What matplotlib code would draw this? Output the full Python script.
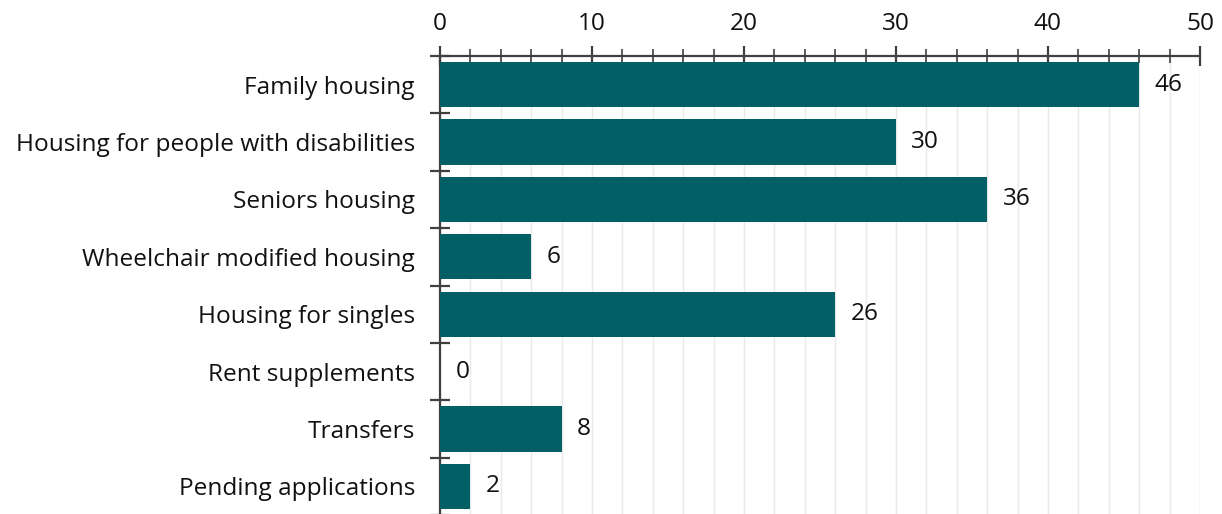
import matplotlib
matplotlib.use("Agg")
import matplotlib.pyplot as plt
from matplotlib.ticker import MultipleLocator

categories = [
    "Family housing",
    "Housing for people with disabilities",
    "Seniors housing",
    "Wheelchair modified housing",
    "Housing for singles",
    "Rent supplements",
    "Transfers",
    "Pending applications",
]
counts = [46, 30, 36, 6, 26, 0, 8, 2]

BAR = "#025f66"
AXIS = "#404040"
GRID = "#e9e9e9"
TEXT = "#111111"
FS = 17.6

plt.rcParams["font.family"] = ["Open Sans", "DejaVu Sans"]

fig = plt.figure(figsize=(12.22, 5.14), dpi=100)
ax = fig.add_axes([440 / 1222, -0.002, 760 / 1222, 1 - 56 / 514 + 0.002])

y = list(range(len(categories)))
ax.barh(y, counts, height=0.79, color=BAR, zorder=3)
for yi, v in zip(y, counts):
    ax.annotate(str(v), (v, yi), xytext=(11, 0), textcoords="offset points",
                ha="left", va="center", fontsize=FS, color=TEXT)

ax.set_ylim(len(categories) - 0.5, -0.5)
ax.set_xlim(0, 50)

ax.xaxis.tick_top()
ax.xaxis.set_major_locator(MultipleLocator(10))
ax.xaxis.set_minor_locator(MultipleLocator(2))
ax.tick_params(axis="x", which="major", direction="inout", length=14, width=1.6,
               color=AXIS, labelsize=FS, labelcolor=TEXT, pad=7.5)
ax.tick_params(axis="x", which="minor", direction="inout", length=10, width=1.2, color=AXIS)
ax.grid(axis="x", which="both", color=GRID, lw=1.0, zorder=0)

ax.set_yticks(y)
ax.set_yticklabels(categories)
ax.set_yticks([i - 0.5 for i in range(len(categories) + 1)], minor=True)
ax.tick_params(axis="y", which="major", length=0, labelsize=FS, labelcolor=TEXT, pad=18)
ax.tick_params(axis="y", which="minor", direction="inout", length=14, width=1.6, color=AXIS)

for s in ("right", "bottom"):
    ax.spines[s].set_visible(False)
for s in ("top", "left"):
    ax.spines[s].set_color(AXIS)
    ax.spines[s].set_linewidth(1.6)

fig.savefig("out.png", dpi=100)
